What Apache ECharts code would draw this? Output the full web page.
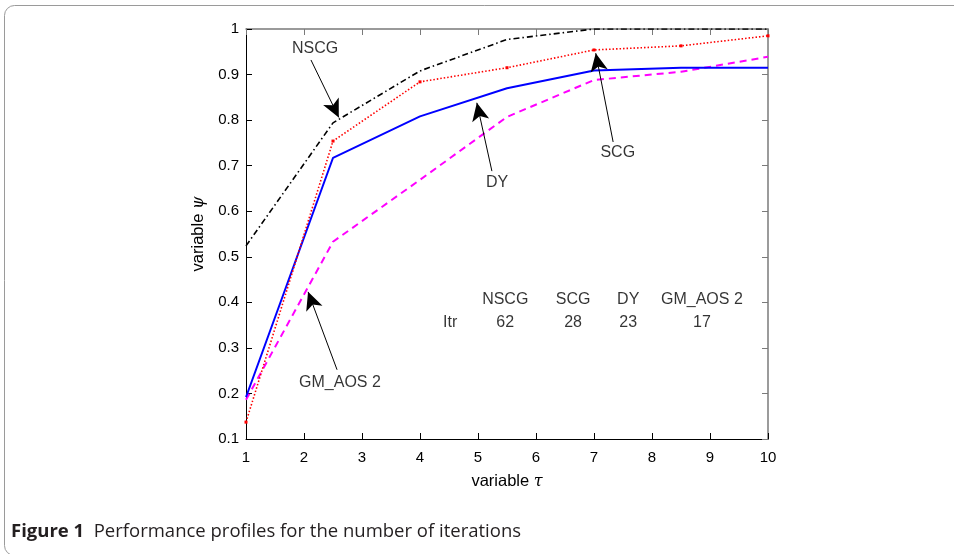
<!DOCTYPE html>
<html>
<head>
<meta charset="utf-8">
<script src="https://cdn.jsdelivr.net/npm/echarts@6/dist/echarts.min.js"></script>
<style>
  html, body { margin: 0; padding: 0; background: #fff; }
  #chart { width: 954px; height: 554px; }
</style>
</head>
<body>
<div id="chart"></div>
<script>
// Performance profiles (fraction of problems solved vs. factor tau)
const tauValues = [1, 2.5, 4, 5.5, 7, 8.5, 10];
const nscgPsi   = [0.524, 0.794, 0.908, 0.977, 1.0, 1.0, 1.0];
const scgPsi    = [0.137, 0.754, 0.884, 0.915, 0.954, 0.963, 0.985];
const dyPsi     = [0.192, 0.717, 0.808, 0.870, 0.909, 0.915, 0.915];
const gmPsi     = [0.186, 0.533, 0.669, 0.807, 0.888, 0.906, 0.939];

// Iteration counts table
const methodNames = ['NSCG', 'SCG', 'DY', 'GM_AOS 2'];
const iterCounts  = [62, 28, 23, 17];

const xTicks = [1, 2, 3, 4, 5, 6, 7, 8, 9, 10];
const yTicks = [0.1, 0.2, 0.3, 0.4, 0.5, 0.6, 0.7, 0.8, 0.9, 1];

const pairs = ys => tauValues.map((t, i) => [t, ys[i]]);

// Arrow callouts in data coordinates: [label, text pos, tail, tip]
const callouts = [
  ['NSCG',     [2.19, 0.958], [2.12, 0.932], [2.6, 0.806]],
  ['SCG',      [7.41, 0.728], [7.33, 0.752], [7.03, 0.947]],
  ['DY',       [5.33, 0.662], [5.24, 0.688], [4.98, 0.838]],
  ['GM_AOS 2', [2.62, 0.223], [2.57, 0.252], [2.07, 0.423]]
];
// Table layout in data coordinates
const tableColX = [5.47, 6.64, 7.59, 8.86];
const tableHeadY = 0.405, tableRowY = 0.355, tableRowLabelX = 4.52;

const FONT = 'Liberation Sans';
const textPoints = [];
callouts.forEach(c => textPoints.push({ value: c[1], label: { formatter: c[0] } }));
methodNames.forEach((m, i) => textPoints.push({ value: [tableColX[i], tableHeadY], label: { formatter: m } }));
textPoints.push({ value: [tableRowLabelX, tableRowY], label: { formatter: 'Itr' } });
iterCounts.forEach((n, i) => textPoints.push({ value: [tableColX[i], tableRowY], label: { formatter: String(n) } }));

const arrowLines = callouts.map(c => [
  { coord: c[2], symbol: 'none' },
  { coord: c[3], symbol: 'arrow', symbolSize: [13, 18] }
]);

const chart = echarts.init(document.getElementById('chart'), null, { renderer: 'canvas' });

const axisText = { color: '#000', fontFamily: FONT, fontSize: 15 };
const nameText = {
  color: '#000', fontFamily: FONT, fontSize: 16.5,
  rich: { m: { fontFamily: 'DejaVu Serif', fontStyle: 'italic', fontSize: 16, color: '#000' } }
};

chart.setOption({
  animation: false,
  backgroundColor: '#fff',
  grid: { left: 246, right: 186, top: 29, bottom: 115 },
  graphic: [
    {
      type: 'rect', silent: true, z: -1,
      shape: { x: 4.5, y: 5.5, width: 1200, height: 550, r: 10 },
      style: { fill: 'none', stroke: '#9a9a9a', lineWidth: 1 }
    },
    {
      type: 'text', left: 11, top: 522,
      style: {
        text: '{b|Figure 1}  Performance profiles for the number of iterations',
        font: '18.5px "Open Sans"',
        fill: '#231f20',
        rich: {
          b: { fontFamily: 'Open Sans', fontWeight: 'bold', fontSize: 18.5, fill: '#231f20' }
        }
      }
    }
  ],
  xAxis: [
    {
      type: 'value', min: 1, max: 10, interval: 1, position: 'bottom',
      axisLine: { onZero: false, lineStyle: { color: '#000', width: 1 } },
      axisTick: { inside: true, length: 6, lineStyle: { color: '#000' } },
      axisLabel: Object.assign({ margin: 11 }, axisText),
      splitLine: { show: false },
      name: 'variable {m|τ}', nameLocation: 'middle', nameGap: 34,
      nameTextStyle: nameText
    },
    {
      type: 'value', min: 1, max: 10, interval: 1, position: 'top',
      axisLine: { onZero: false, lineStyle: { color: '#7a7a7a', width: 1.5 } },
      axisTick: { inside: true, length: 6, lineStyle: { color: '#7a7a7a' } },
      axisLabel: { show: false },
      splitLine: { show: false }
    }
  ],
  yAxis: [
    {
      type: 'value', min: 0.1, max: 1, interval: 0.1, position: 'left',
      axisLine: { onZero: false, show: true, lineStyle: { color: '#000', width: 1 } },
      axisTick: { show: true, inside: true, length: 6, lineStyle: { color: '#000' } },
      axisLabel: Object.assign({
        margin: 7,
        formatter: v => String(Math.round(v * 10) / 10)
      }, axisText),
      splitLine: { show: false },
      name: 'variable {m|ψ}', nameLocation: 'middle', nameGap: 34, nameRotate: 90,
      nameTextStyle: nameText
    },
    {
      type: 'value', min: 0.1, max: 1, interval: 0.1, position: 'right',
      axisLine: { onZero: false, show: true, lineStyle: { color: '#7a7a7a', width: 1.5 } },
      axisTick: { show: true, inside: true, length: 6, lineStyle: { color: '#7a7a7a' } },
      axisLabel: { show: false },
      splitLine: { show: false }
    }
  ],
  series: [
    {
      name: 'GM_AOS 2', type: 'line', data: pairs(gmPsi), showSymbol: false,
      lineStyle: { color: '#ff00ff', width: 2, type: [7, 5] }, z: 2
    },
    {
      name: 'DY', type: 'line', data: pairs(dyPsi), showSymbol: false,
      lineStyle: { color: '#0000ff', width: 1.9, type: 'solid' }, z: 3
    },
    {
      name: 'SCG', type: 'line', data: pairs(scgPsi),
      symbol: 'rect', symbolSize: 3, showSymbol: true,
      itemStyle: { color: '#ff0000' },
      lineStyle: { color: '#ff0000', width: 1.6, type: [1.5, 2] }, z: 4
    },
    {
      name: 'NSCG', type: 'line', data: pairs(nscgPsi), showSymbol: false,
      lineStyle: { color: '#000', width: 1.6, type: [6, 3, 1.5, 3] }, z: 5
    },
    {
      name: 'annotations', type: 'scatter', data: textPoints,
      symbolSize: 0, silent: true, z: 10,
      label: {
        show: true, position: 'inside', color: '#000',
        fontFamily: FONT, fontSize: 16
      },
      markLine: {
        silent: true, animation: false,
        label: { show: false },
        lineStyle: { color: '#000', width: 1, type: 'solid' },
        itemStyle: { color: '#000' },
        data: arrowLines
      }
    }
  ]
});
</script>
</body>
</html>
